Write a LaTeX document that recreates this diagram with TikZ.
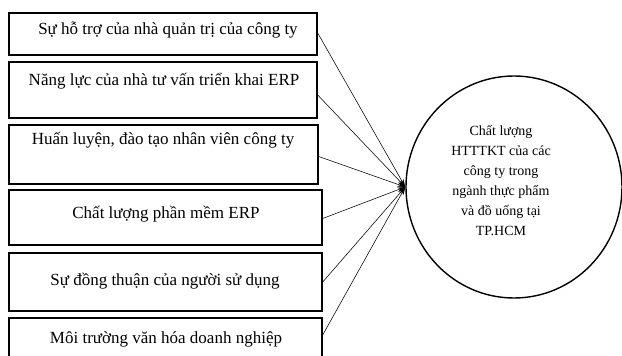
\documentclass[tikz,border=0pt]{standalone}
\usepackage{fontspec}
\setmainfont{Liberation Serif}
\usetikzlibrary{arrows.meta,shapes.geometric}
\begin{document}
\begin{tikzpicture}[x=1pt,y=-1pt,
  factorbox/.style={draw, line width=1.4pt, rectangle, inner sep=0pt},
  factortext/.style={inner sep=0pt, font=\fontsize{17}{20}\selectfont},
  goal/.style={draw, line width=1.4pt, ellipse, inner sep=0pt, minimum width=216pt, minimum height=222pt},
  goaltext/.style={inner sep=0pt, align=center, font=\fontsize{14}{20}\selectfont},
  link/.style={line width=0.55pt, -{Stealth[length=8pt,width=4.5pt]}}]
\useasboundingbox (0,0) rectangle (622,356);
\clip (0,0) rectangle (622,356);
\node[factorbox, minimum width=308pt, minimum height=42pt] (b1) at (163,34) {};
\node[factorbox, minimum width=308pt, minimum height=56pt] (b2) at (163,90) {};
\node[factorbox, minimum width=309pt, minimum height=59pt] (b3) at (163.5,154.5) {};
\node[factorbox, minimum width=313pt, minimum height=55pt] (b4) at (165.5,217.5) {};
\node[factorbox, minimum width=313pt, minimum height=58pt] (b5) at (165.5,282) {};
\node[factorbox, minimum width=313pt, minimum height=52pt] (b6) at (165.5,344) {};
\node[factortext] (t1) at (168,30) {Sự hỗ trợ của nhà quản trị của công ty};
\node[factortext] (t2) at (164,81) {Năng lực của nhà tư vấn triển khai ERP};
\node[factortext] (t3) at (163,140) {Huấn luyện, đào tạo nhân viên công ty};
\node[factortext] (t4) at (166,214) {Chất lượng phần mềm ERP};
\node[factortext] (t5) at (165,281) {Sự đồng thuận của người sử dụng};
\node[factortext] (t6) at (166,339) {Môi trường văn hóa doanh nghiệp};
\node[goal] (c) at (514,187) {};
\node[goaltext] (ct) at (501,181) {Chất lượng\\HTTTKT của các\\công ty trong\\ngành thực phẩm\\và đồ uống tại\\TP.HCM};
\draw[link] ([yshift=1pt]b1.east) -- (c.west);
\draw[link] ([yshift=-5pt]b2.east) -- (c.west);
\draw[link] ([yshift=-2pt]b3.east) -- (c.west);
\draw[link] ([yshift=-1pt]b4.east) -- (c.west);
\draw[link] (b5.east) -- (c.west);
\draw[link] ([yshift=9pt]b6.east) -- (c.west);
\end{tikzpicture}
\end{document}
